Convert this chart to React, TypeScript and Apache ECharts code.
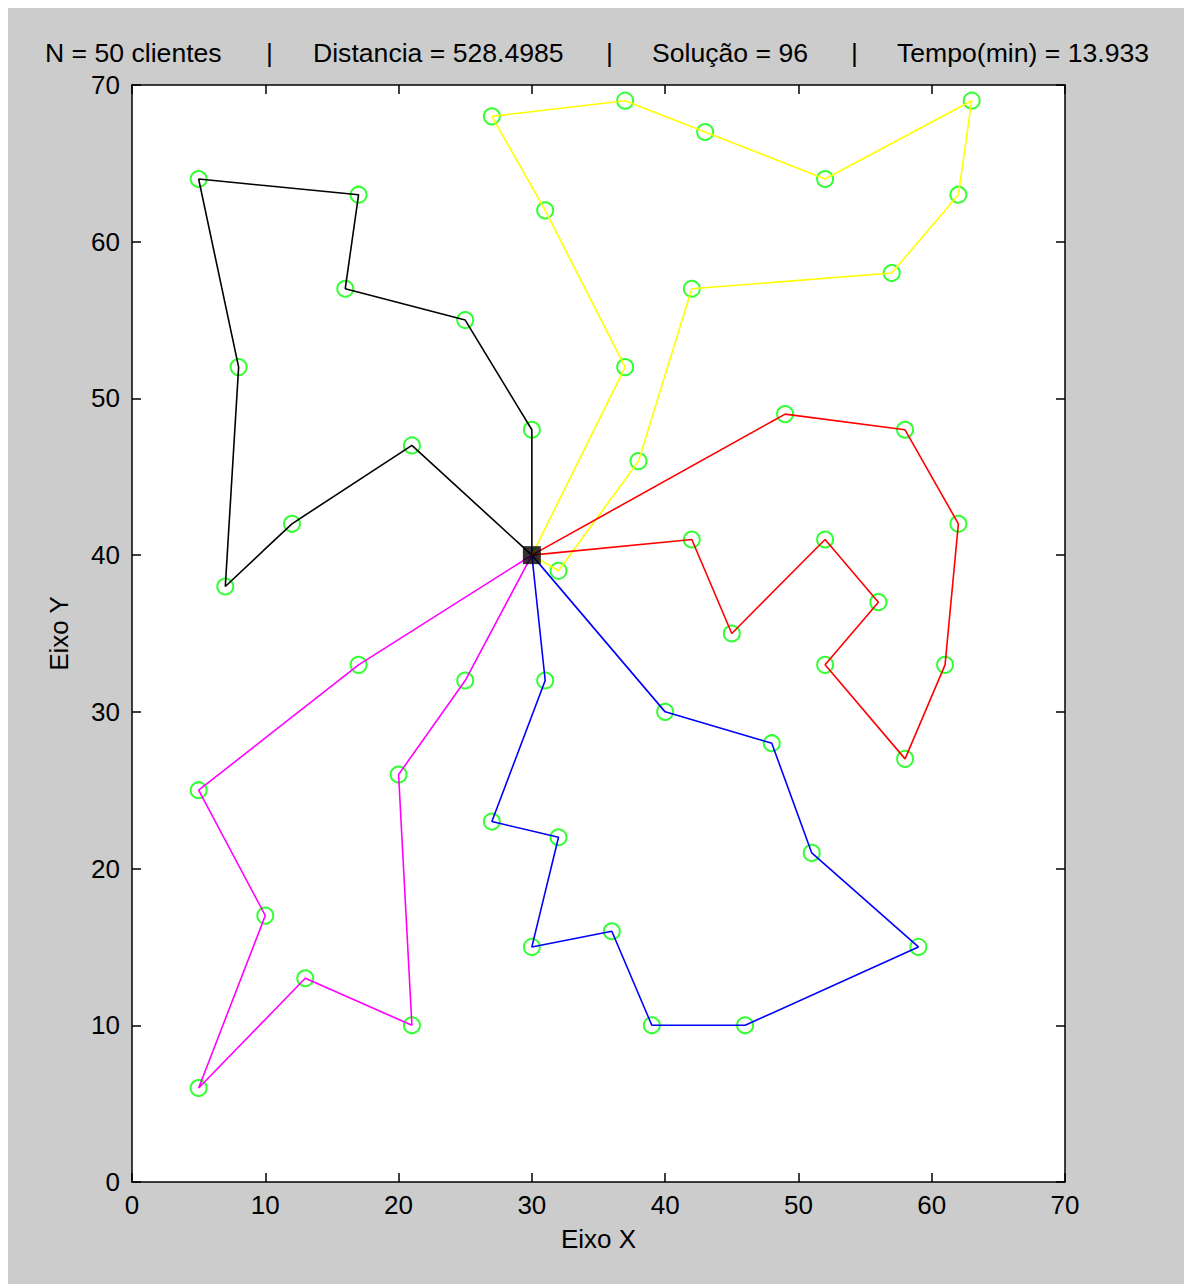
import React, { useEffect, useRef } from "react";
import * as echarts from "echarts";

const depot: number[] = [30, 40];
const routeBlack: number[][] = [[30, 48], [25, 55], [16, 57], [17, 63], [5, 64], [8, 52], [7, 38], [12, 42], [21, 47]];
const routeYellow: number[][] = [[37, 52], [31, 62], [27, 68], [37, 69], [43, 67], [52, 64], [63, 69], [62, 63], [57, 58], [42, 57], [38, 46], [32, 39]];
const routeRed: number[][] = [[49, 49], [58, 48], [62, 42], [61, 33], [58, 27], [52, 33], [56, 37], [52, 41], [45, 35], [42, 41]];
const routeBlue: number[][] = [[31, 32], [27, 23], [32, 22], [30, 15], [36, 16], [39, 10], [46, 10], [59, 15], [51, 21], [48, 28], [40, 30]];
const routeMagenta: number[][] = [[17, 33], [5, 25], [10, 17], [5, 6], [13, 13], [21, 10], [20, 26], [25, 32]];

const routeColors: string[] = ["#000000", "#ffff00", "#ff0000", "#0000ff", "#ff00ff"];
const titleParts: string[] = ["N = 50 clientes", "|", "Distancia = 528.4985", "|", "Solução = 96", "|", "Tempo(min) = 13.933"];
const titleLeft: number[] = [37, 258, 305, 598, 644, 843, 889];
const axisTicks: number[] = [0, 10, 20, 30, 40, 50, 60, 70];

const FONT = "'Liberation Sans', Arial, sans-serif";

export default function App() {
  const ref = useRef<HTMLDivElement>(null);
  useEffect(() => {
    if (!ref.current) return;
    const chart = echarts.init(ref.current, undefined, { renderer: "svg" });
    const routes = [routeBlack, routeYellow, routeRed, routeBlue, routeMagenta];
    const clients = routes.flat();
    const axisCommon = {
      type: "value" as const,
      min: axisTicks[0],
      max: axisTicks[axisTicks.length - 1],
      interval: 10,
      splitLine: { show: false },
      axisLine: { show: true, onZero: false, lineStyle: { color: "#000", width: 1.5 } },
      axisTick: { show: true, inside: true, length: 9, lineStyle: { color: "#000", width: 1.5 } },
    };
    const labelStyle = { color: "#000", fontSize: 26, fontFamily: FONT };
    chart.setOption({
      animation: false,
      backgroundColor: "#cccccc",
      graphic: titleParts.map((t, i) => ({
        type: "text",
        left: titleLeft[i],
        top: 31,
        style: { text: t, fill: "#000", font: `26.6px ${FONT}` },
      })),
      grid: {
        left: 124,
        top: 77,
        width: 933,
        height: 1097,
        show: true,
        backgroundColor: "#ffffff",
        borderWidth: 0,
      },
      xAxis: [
        {
          ...axisCommon,
          position: "bottom",
          name: "Eixo X",
          nameLocation: "middle",
          nameGap: 44,
          nameTextStyle: labelStyle,
          axisLabel: { ...labelStyle, margin: 10 },
        },
        {
          ...axisCommon,
          position: "top",
          axisLabel: { show: false },
        },
      ],
      yAxis: [
        {
          ...axisCommon,
          position: "left",
          name: "Eixo Y",
          nameLocation: "middle",
          nameGap: 60,
          nameTextStyle: labelStyle,
          axisLabel: { ...labelStyle, margin: 12 },
        },
        {
          ...axisCommon,
          position: "right",
          axisLabel: { show: false },
        },
      ],
      series: [
        {
          type: "scatter",
          name: "clientes",
          xAxisIndex: 0,
          yAxisIndex: 0,
          data: clients,
          symbol: "circle",
          symbolSize: 16,
          itemStyle: { color: "rgba(0,0,0,0)", borderColor: "#00ff00", borderWidth: 2 },
          z: 2,
        },
        ...routes.map((r, i) => ({
          type: "line",
          xAxisIndex: 0,
          yAxisIndex: 0,
          data: [depot, ...r, depot],
          showSymbol: false,
          symbol: "none",
          lineStyle: { color: routeColors[i], width: 1.6 },
          z: 3,
        })),
        {
          type: "scatter",
          name: "deposito",
          xAxisIndex: 0,
          yAxisIndex: 0,
          data: [depot],
          symbol: "rect",
          symbolSize: 18,
          itemStyle: { color: "#000" },
          z: 4,
        },
      ],
    });
    return () => chart.dispose();
  }, []);
  return (
    <div
      ref={ref}
      style={{ position: "fixed", left: 8, top: 8, width: 1176, height: 1276 }}
    />
  );
}
